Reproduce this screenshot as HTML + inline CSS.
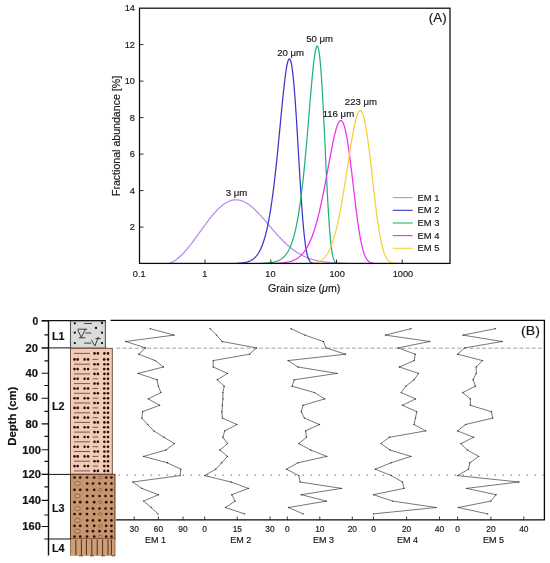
<!DOCTYPE html>
<html lang="en"><head><meta charset="utf-8"><title>End-member grain size figure</title>
<style>html,body{margin:0;padding:0;background:#fff}body{width:550px;height:563px;overflow:hidden}svg{display:block}text{font-family:"Liberation Sans",sans-serif;fill:#1a1a1a;stroke:#1a1a1a;stroke-width:0.18px}.b{font-weight:bold;fill:#111}</style></head><body>
<svg width="550" height="563" viewBox="0 0 550 563">
<rect width="550" height="563" fill="#fff"/>
<g id="panelA">
<clipPath id="cA"><rect x="139.5" y="8.2" width="310.5" height="255.2"/></clipPath>
<g clip-path="url(#cA)" fill="none" stroke-width="1.25" stroke-linejoin="round">
<path d="M168.5,263.38 L169.0,263.27 L169.5,263.14 L170.0,262.99 L170.5,262.82 L171.0,262.63 L171.5,262.42 L172.0,262.19 L172.5,261.95 L173.0,261.69 L173.5,261.41 L174.0,261.11 L174.5,260.81 L175.0,260.48 L175.5,260.15 L176.0,259.79 L176.5,259.43 L177.0,259.05 L177.5,258.66 L178.0,258.26 L178.5,257.84 L179.0,257.41 L179.5,256.97 L180.0,256.52 L180.5,256.05 L181.0,255.58 L181.5,255.10 L182.0,254.60 L182.5,254.09 L183.0,253.58 L183.5,253.05 L184.0,252.52 L184.5,251.97 L185.0,251.42 L185.5,250.85 L186.0,250.28 L186.5,249.70 L187.0,249.12 L187.5,248.52 L188.0,247.92 L188.5,247.31 L189.0,246.69 L189.5,246.07 L190.0,245.44 L190.5,244.80 L191.0,244.16 L191.5,243.51 L192.0,242.86 L192.5,242.20 L193.0,241.54 L193.5,240.87 L194.0,240.20 L194.5,239.52 L195.0,238.84 L195.5,238.16 L196.0,237.47 L196.5,236.79 L197.0,236.10 L197.5,235.40 L198.0,234.71 L198.5,234.01 L199.0,233.32 L199.5,232.62 L200.0,231.92 L200.5,231.22 L201.0,230.52 L201.5,229.83 L202.0,229.13 L202.5,228.43 L203.0,227.74 L203.5,227.05 L204.0,226.36 L204.5,225.67 L205.0,224.98 L205.5,224.30 L206.0,223.62 L206.5,222.95 L207.0,222.28 L207.5,221.61 L208.0,220.95 L208.5,220.29 L209.0,219.64 L209.5,218.99 L210.0,218.35 L210.5,217.72 L211.0,217.09 L211.5,216.47 L212.0,215.86 L212.5,215.25 L213.0,214.66 L213.5,214.07 L214.0,213.49 L214.5,212.91 L215.0,212.35 L215.5,211.80 L216.0,211.25 L216.5,210.72 L217.0,210.19 L217.5,209.68 L218.0,209.18 L218.5,208.68 L219.0,208.20 L219.5,207.73 L220.0,207.27 L220.5,206.83 L221.0,206.39 L221.5,205.97 L222.0,205.56 L222.5,205.17 L223.0,204.78 L223.5,204.41 L224.0,204.05 L224.5,203.71 L225.0,203.38 L225.5,203.06 L226.0,202.76 L226.5,202.47 L227.0,202.20 L227.5,201.94 L228.0,201.69 L228.5,201.46 L229.0,201.25 L229.5,201.04 L230.0,200.86 L230.5,200.69 L231.0,200.53 L231.5,200.39 L232.0,200.26 L232.5,200.15 L233.0,200.06 L233.5,199.98 L234.0,199.91 L234.5,199.86 L235.0,199.82 L235.5,199.80 L236.0,199.80 L236.5,199.81 L237.0,199.84 L237.5,199.88 L238.0,199.93 L238.5,200.00 L239.0,200.09 L239.5,200.19 L240.0,200.30 L240.5,200.43 L241.0,200.58 L241.5,200.74 L242.0,200.91 L242.5,201.10 L243.0,201.30 L243.5,201.51 L244.0,201.74 L244.5,201.98 L245.0,202.23 L245.5,202.50 L246.0,202.78 L246.5,203.08 L247.0,203.38 L247.5,203.70 L248.0,204.03 L248.5,204.37 L249.0,204.72 L249.5,205.09 L250.0,205.46 L250.5,205.85 L251.0,206.25 L251.5,206.66 L252.0,207.07 L252.5,207.50 L253.0,207.94 L253.5,208.38 L254.0,208.84 L254.5,209.30 L255.0,209.77 L255.5,210.26 L256.0,210.74 L256.5,211.24 L257.0,211.74 L257.5,212.25 L258.0,212.77 L258.5,213.29 L259.0,213.82 L259.5,214.36 L260.0,214.90 L260.5,215.44 L261.0,215.99 L261.5,216.55 L262.0,217.11 L262.5,217.67 L263.0,218.24 L263.5,218.81 L264.0,219.38 L264.5,219.96 L265.0,220.54 L265.5,221.12 L266.0,221.70 L266.5,222.29 L267.0,222.87 L267.5,223.46 L268.0,224.05 L268.5,224.63 L269.0,225.22 L269.5,225.81 L270.0,226.40 L270.5,226.98 L271.0,227.57 L271.5,228.16 L272.0,228.74 L272.5,229.32 L273.0,229.90 L273.5,230.48 L274.0,231.06 L274.5,231.63 L275.0,232.20 L275.5,232.77 L276.0,233.34 L276.5,233.90 L277.0,234.46 L277.5,235.01 L278.0,235.56 L278.5,236.11 L279.0,236.65 L279.5,237.19 L280.0,237.72 L280.5,238.25 L281.0,238.77 L281.5,239.29 L282.0,239.80 L282.5,240.31 L283.0,240.82 L283.5,241.31 L284.0,241.80 L284.5,242.29 L285.0,242.77 L285.5,243.24 L286.0,243.71 L286.5,244.18 L287.0,244.63 L287.5,245.08 L288.0,245.52 L288.5,245.96 L289.0,246.39 L289.5,246.82 L290.0,247.23 L290.5,247.65 L291.0,248.05 L291.5,248.45 L292.0,248.84 L292.5,249.22 L293.0,249.60 L293.5,249.97 L294.0,250.34 L294.5,250.70 L295.0,251.05 L295.5,251.39 L296.0,251.73 L296.5,252.07 L297.0,252.39 L297.5,252.71 L298.0,253.02 L298.5,253.33 L299.0,253.63 L299.5,253.92 L300.0,254.21 L300.5,254.49 L301.0,254.76 L301.5,255.03 L302.0,255.29 L302.5,255.55 L303.0,255.80 L303.5,256.04 L304.0,256.28 L304.5,256.51 L305.0,256.74 L305.5,256.96 L306.0,257.18 L306.5,257.39 L307.0,257.59 L307.5,257.79 L308.0,257.98 L308.5,258.17 L309.0,258.36 L309.5,258.53 L310.0,258.71 L310.5,258.88 L311.0,259.04 L311.5,259.20 L312.0,259.35 L312.5,259.51 L313.0,259.65 L313.5,259.79 L314.0,259.93 L314.5,260.06 L315.0,260.19 L315.5,260.32 L316.0,260.44 L316.5,260.56 L317.0,260.67 L317.5,260.78 L318.0,260.89 L318.5,260.99 L319.0,261.09 L319.5,261.18 L320.0,261.28 L320.5,261.37 L321.0,261.45 L321.5,261.54 L322.0,261.62 L322.5,261.70 L323.0,261.77 L323.5,261.84 L324.0,261.91 L324.5,261.98 L325.0,262.05 L325.5,262.11 L326.0,262.17 L326.5,262.23 L327.0,262.28 L327.5,262.34 L328.0,262.39 L328.5,262.44 L329.0,262.49 L329.5,262.53 L330.0,262.58 L330.5,262.62 L331.0,262.66 L331.5,262.70 L332.0,262.73 L332.5,262.77 L333.0,262.80 L333.5,262.84 L334.0,262.87 L334.5,262.90 L335.0,262.93 L335.5,262.96 L336.0,262.98 L336.5,263.01 L337.0,263.03 L337.5,263.06 L338.0,263.08 L338.5,263.10 L339.0,263.12 L339.5,263.14 L340.0,263.16 L340.5,263.17 L341.0,263.19 L341.5,263.21 L342.0,263.22 L342.5,263.24 L343.0,263.25 L343.5,263.26 L344.0,263.28 L344.5,263.29 L345.0,263.30 L345.5,263.31 L346.0,263.32 L346.5,263.33 L347.0,263.34 L347.5,263.35 L348.0,263.36" stroke="#b98af0"/>
<path d="M236.0,263.36 L236.5,263.35 L237.0,263.33 L237.5,263.31 L238.0,263.28 L238.5,263.25 L239.0,263.22 L239.5,263.19 L240.0,263.15 L240.5,263.11 L241.0,263.07 L241.5,263.02 L242.0,262.96 L242.5,262.90 L243.0,262.84 L243.5,262.77 L244.0,262.69 L244.5,262.60 L245.0,262.51 L245.5,262.40 L246.0,262.29 L246.5,262.17 L247.0,262.03 L247.5,261.89 L248.0,261.73 L248.5,261.55 L249.0,261.37 L249.5,261.16 L250.0,260.94 L250.5,260.70 L251.0,260.44 L251.5,260.16 L252.0,259.86 L252.5,259.53 L253.0,259.18 L253.5,258.80 L254.0,258.39 L254.5,257.95 L255.0,257.47 L255.5,256.96 L256.0,256.42 L256.5,255.83 L257.0,255.20 L257.5,254.52 L258.0,253.80 L258.5,253.03 L259.0,252.20 L259.5,251.32 L260.0,250.37 L260.5,249.37 L261.0,248.30 L261.5,247.15 L262.0,245.94 L262.5,244.65 L263.0,243.27 L263.5,241.81 L264.0,240.27 L264.5,238.63 L265.0,236.89 L265.5,235.06 L266.0,233.12 L266.5,231.07 L267.0,228.90 L267.5,226.62 L268.0,224.22 L268.5,221.70 L269.0,219.05 L269.5,216.26 L270.0,213.34 L270.5,210.29 L271.0,207.09 L271.5,203.76 L272.0,200.28 L272.5,196.65 L273.0,192.88 L273.5,188.97 L274.0,184.92 L274.5,180.72 L275.0,176.39 L275.5,171.92 L276.0,167.33 L276.5,162.62 L277.0,157.79 L277.5,152.86 L278.0,147.83 L278.5,142.73 L279.0,137.56 L279.5,132.34 L280.0,127.09 L280.5,121.83 L281.0,116.59 L281.5,111.38 L282.0,106.23 L282.5,101.17 L283.0,96.23 L283.5,91.44 L284.0,86.84 L284.5,82.45 L285.0,78.33 L285.5,74.49 L286.0,70.99 L286.5,67.85 L287.0,65.12 L287.5,62.84 L288.0,61.03 L288.5,59.74 L289.0,58.99 L289.5,58.81 L290.0,59.23 L290.5,60.28 L291.0,61.95 L291.5,64.27 L292.0,67.24 L292.5,70.86 L293.0,75.11 L293.5,79.99 L294.0,85.46 L294.5,91.48 L295.0,98.04 L295.5,105.06 L296.0,112.51 L296.5,120.31 L297.0,128.41 L297.5,136.73 L298.0,145.20 L298.5,153.74 L299.0,162.27 L299.5,170.73 L300.0,179.03 L300.5,187.11 L301.0,194.90 L301.5,202.34 L302.0,209.40 L302.5,216.01 L303.0,222.16 L303.5,227.83 L304.0,232.98 L304.5,237.64 L305.0,241.79 L305.5,245.46 L306.0,248.66 L306.5,251.42 L307.0,253.78 L307.5,255.77 L308.0,257.43 L308.5,258.79 L309.0,259.89 L309.5,260.77 L310.0,261.47 L310.5,262.01 L311.0,262.42 L311.5,262.73 L312.0,262.96 L312.5,263.13 L313.0,263.25 L313.5,263.33 L314.0,263.39" stroke="#3a37c8"/>
<path d="M260.5,263.36 L261.0,263.35 L261.5,263.33 L262.0,263.31 L262.5,263.30 L263.0,263.28 L263.5,263.26 L264.0,263.24 L264.5,263.21 L265.0,263.18 L265.5,263.16 L266.0,263.12 L266.5,263.09 L267.0,263.05 L267.5,263.01 L268.0,262.97 L268.5,262.92 L269.0,262.87 L269.5,262.82 L270.0,262.76 L270.5,262.69 L271.0,262.62 L271.5,262.54 L272.0,262.46 L272.5,262.37 L273.0,262.28 L273.5,262.17 L274.0,262.06 L274.5,261.94 L275.0,261.81 L275.5,261.67 L276.0,261.52 L276.5,261.35 L277.0,261.18 L277.5,260.98 L278.0,260.78 L278.5,260.56 L279.0,260.32 L279.5,260.07 L280.0,259.79 L280.5,259.50 L281.0,259.18 L281.5,258.84 L282.0,258.47 L282.5,258.08 L283.0,257.66 L283.5,257.21 L284.0,256.72 L284.5,256.20 L285.0,255.65 L285.5,255.05 L286.0,254.41 L286.5,253.73 L287.0,253.00 L287.5,252.22 L288.0,251.39 L288.5,250.50 L289.0,249.55 L289.5,248.53 L290.0,247.45 L290.5,246.29 L291.0,245.06 L291.5,243.75 L292.0,242.36 L292.5,240.88 L293.0,239.30 L293.5,237.62 L294.0,235.85 L294.5,233.96 L295.0,231.96 L295.5,229.84 L296.0,227.59 L296.5,225.22 L297.0,222.71 L297.5,220.06 L298.0,217.26 L298.5,214.32 L299.0,211.21 L299.5,207.95 L300.0,204.52 L300.5,200.93 L301.0,197.16 L301.5,193.22 L302.0,189.10 L302.5,184.80 L303.0,180.33 L303.5,175.68 L304.0,170.85 L304.5,165.85 L305.0,160.69 L305.5,155.37 L306.0,149.90 L306.5,144.30 L307.0,138.57 L307.5,132.73 L308.0,126.81 L308.5,120.82 L309.0,114.79 L309.5,108.75 L310.0,102.73 L310.5,96.76 L311.0,90.89 L311.5,85.16 L312.0,79.61 L312.5,74.30 L313.0,69.26 L313.5,64.57 L314.0,60.27 L314.5,56.43 L315.0,53.10 L315.5,50.34 L316.0,48.21 L316.5,46.77 L317.0,46.06 L317.5,46.15 L318.0,47.06 L318.5,48.83 L319.0,51.49 L319.5,55.06 L320.0,59.53 L320.5,64.89 L321.0,71.13 L321.5,78.20 L322.0,86.05 L322.5,94.61 L323.0,103.79 L323.5,113.51 L324.0,123.65 L324.5,134.09 L325.0,144.70 L325.5,155.36 L326.0,165.94 L326.5,176.30 L327.0,186.33 L327.5,195.91 L328.0,204.95 L328.5,213.36 L329.0,221.08 L329.5,228.07 L330.0,234.30 L330.5,239.77 L331.0,244.51 L331.5,248.54 L332.0,251.90 L332.5,254.67 L333.0,256.89 L333.5,258.65 L334.0,260.02 L334.5,261.05 L335.0,261.81 L335.5,262.37 L336.0,262.76 L336.5,263.03 L337.0,263.20 L337.5,263.32 L338.0,263.40" stroke="#1fb27a"/>
<path d="M275.5,263.35 L276.0,263.34 L276.5,263.32 L277.0,263.30 L277.5,263.28 L278.0,263.26 L278.5,263.23 L279.0,263.21 L279.5,263.18 L280.0,263.14 L280.5,263.11 L281.0,263.07 L281.5,263.03 L282.0,262.99 L282.5,262.94 L283.0,262.89 L283.5,262.84 L284.0,262.78 L284.5,262.71 L285.0,262.65 L285.5,262.57 L286.0,262.49 L286.5,262.41 L287.0,262.32 L287.5,262.22 L288.0,262.12 L288.5,262.01 L289.0,261.89 L289.5,261.77 L290.0,261.63 L290.5,261.49 L291.0,261.34 L291.5,261.17 L292.0,261.00 L292.5,260.82 L293.0,260.62 L293.5,260.41 L294.0,260.19 L294.5,259.96 L295.0,259.71 L295.5,259.45 L296.0,259.17 L296.5,258.88 L297.0,258.57 L297.5,258.24 L298.0,257.89 L298.5,257.53 L299.0,257.14 L299.5,256.73 L300.0,256.30 L300.5,255.85 L301.0,255.38 L301.5,254.87 L302.0,254.35 L302.5,253.79 L303.0,253.21 L303.5,252.60 L304.0,251.96 L304.5,251.29 L305.0,250.58 L305.5,249.85 L306.0,249.07 L306.5,248.26 L307.0,247.42 L307.5,246.53 L308.0,245.61 L308.5,244.65 L309.0,243.64 L309.5,242.59 L310.0,241.50 L310.5,240.36 L311.0,239.18 L311.5,237.94 L312.0,236.66 L312.5,235.33 L313.0,233.95 L313.5,232.52 L314.0,231.03 L314.5,229.50 L315.0,227.90 L315.5,226.25 L316.0,224.55 L316.5,222.79 L317.0,220.98 L317.5,219.11 L318.0,217.18 L318.5,215.20 L319.0,213.16 L319.5,211.06 L320.0,208.91 L320.5,206.71 L321.0,204.45 L321.5,202.14 L322.0,199.78 L322.5,197.38 L323.0,194.92 L323.5,192.42 L324.0,189.88 L324.5,187.30 L325.0,184.69 L325.5,182.04 L326.0,179.37 L326.5,176.67 L327.0,173.96 L327.5,171.23 L328.0,168.49 L328.5,165.75 L329.0,163.02 L329.5,160.30 L330.0,157.59 L330.5,154.91 L331.0,152.26 L331.5,149.65 L332.0,147.10 L332.5,144.60 L333.0,142.17 L333.5,139.82 L334.0,137.55 L334.5,135.38 L335.0,133.32 L335.5,131.37 L336.0,129.56 L336.5,127.88 L337.0,126.34 L337.5,124.97 L338.0,123.76 L338.5,122.73 L339.0,121.88 L339.5,121.23 L340.0,120.78 L340.5,120.54 L341.0,120.52 L341.5,120.72 L342.0,121.15 L342.5,121.81 L343.0,122.71 L343.5,123.84 L344.0,125.22 L344.5,126.83 L345.0,128.67 L345.5,130.75 L346.0,133.06 L346.5,135.59 L347.0,138.33 L347.5,141.28 L348.0,144.43 L348.5,147.76 L349.0,151.25 L349.5,154.91 L350.0,158.70 L350.5,162.62 L351.0,166.65 L351.5,170.76 L352.0,174.95 L352.5,179.18 L353.0,183.45 L353.5,187.72 L354.0,191.99 L354.5,196.23 L355.0,200.42 L355.5,204.55 L356.0,208.59 L356.5,212.54 L357.0,216.37 L357.5,220.07 L358.0,223.64 L358.5,227.05 L359.0,230.30 L359.5,233.39 L360.0,236.30 L360.5,239.04 L361.0,241.60 L361.5,243.98 L362.0,246.18 L362.5,248.21 L363.0,250.07 L363.5,251.76 L364.0,253.29 L364.5,254.66 L365.0,255.90 L365.5,256.99 L366.0,257.96 L366.5,258.82 L367.0,259.56 L367.5,260.21 L368.0,260.77 L368.5,261.25 L369.0,261.65 L369.5,262.00 L370.0,262.28 L370.5,262.52 L371.0,262.72 L371.5,262.88 L372.0,263.02 L372.5,263.12 L373.0,263.21 L373.5,263.28 L374.0,263.33 L374.5,263.37" stroke="#f02df0"/>
<path d="M311.5,263.36 L312.0,263.33 L312.5,263.29 L313.0,263.24 L313.5,263.18 L314.0,263.11 L314.5,263.04 L315.0,262.95 L315.5,262.85 L316.0,262.74 L316.5,262.62 L317.0,262.48 L317.5,262.32 L318.0,262.15 L318.5,261.95 L319.0,261.74 L319.5,261.50 L320.0,261.24 L320.5,260.96 L321.0,260.65 L321.5,260.31 L322.0,259.95 L322.5,259.55 L323.0,259.12 L323.5,258.65 L324.0,258.15 L324.5,257.61 L325.0,257.03 L325.5,256.41 L326.0,255.75 L326.5,255.03 L327.0,254.28 L327.5,253.47 L328.0,252.61 L328.5,251.69 L329.0,250.73 L329.5,249.70 L330.0,248.61 L330.5,247.47 L331.0,246.26 L331.5,244.98 L332.0,243.64 L332.5,242.24 L333.0,240.76 L333.5,239.21 L334.0,237.59 L334.5,235.89 L335.0,234.12 L335.5,232.28 L336.0,230.36 L336.5,228.36 L337.0,226.28 L337.5,224.13 L338.0,221.90 L338.5,219.59 L339.0,217.20 L339.5,214.74 L340.0,212.20 L340.5,209.59 L341.0,206.90 L341.5,204.15 L342.0,201.33 L342.5,198.44 L343.0,195.49 L343.5,192.49 L344.0,189.43 L344.5,186.33 L345.0,183.18 L345.5,179.99 L346.0,176.77 L346.5,173.52 L347.0,170.25 L347.5,166.98 L348.0,163.70 L348.5,160.42 L349.0,157.16 L349.5,153.92 L350.0,150.72 L350.5,147.56 L351.0,144.45 L351.5,141.40 L352.0,138.43 L352.5,135.55 L353.0,132.77 L353.5,130.10 L354.0,127.55 L354.5,125.13 L355.0,122.86 L355.5,120.75 L356.0,118.81 L356.5,117.05 L357.0,115.48 L357.5,114.11 L358.0,112.95 L358.5,112.02 L359.0,111.31 L359.5,110.84 L360.0,110.62 L360.5,110.65 L361.0,110.93 L361.5,111.46 L362.0,112.26 L362.5,113.32 L363.0,114.64 L363.5,116.22 L364.0,118.06 L364.5,120.15 L365.0,122.48 L365.5,125.05 L366.0,127.86 L366.5,130.87 L367.0,134.10 L367.5,137.52 L368.0,141.12 L368.5,144.88 L369.0,148.79 L369.5,152.83 L370.0,156.99 L370.5,161.23 L371.0,165.55 L371.5,169.93 L372.0,174.34 L372.5,178.77 L373.0,183.19 L373.5,187.59 L374.0,191.96 L374.5,196.26 L375.0,200.49 L375.5,204.62 L376.0,208.66 L376.5,212.57 L377.0,216.35 L377.5,220.00 L378.0,223.49 L378.5,226.83 L379.0,230.00 L379.5,233.00 L380.0,235.83 L380.5,238.49 L381.0,240.98 L381.5,243.29 L382.0,245.44 L382.5,247.42 L383.0,249.24 L383.5,250.91 L384.0,252.43 L384.5,253.80 L385.0,255.04 L385.5,256.15 L386.0,257.15 L386.5,258.04 L387.0,258.82 L387.5,259.51 L388.0,260.11 L388.5,260.64 L389.0,261.10 L389.5,261.49 L390.0,261.83 L390.5,262.12 L391.0,262.36 L391.5,262.57 L392.0,262.74 L392.5,262.89 L393.0,263.01 L393.5,263.10 L394.0,263.18 L394.5,263.25 L395.0,263.30 L395.5,263.35 L396.0,263.38" stroke="#f7d038"/>
</g>
<rect x="139.5" y="8.2" width="310.5" height="255.2" fill="none" stroke="#0a0a0a" stroke-width="1.25"/>
<line x1="139.5" x2="143.5" y1="227.1" y2="227.1" stroke="#111" stroke-width="0.9"/>
<line x1="139.5" x2="143.5" y1="190.6" y2="190.6" stroke="#111" stroke-width="0.9"/>
<line x1="139.5" x2="143.5" y1="154.1" y2="154.1" stroke="#111" stroke-width="0.9"/>
<line x1="139.5" x2="143.5" y1="117.6" y2="117.6" stroke="#111" stroke-width="0.9"/>
<line x1="139.5" x2="143.5" y1="81.1" y2="81.1" stroke="#111" stroke-width="0.9"/>
<line x1="139.5" x2="143.5" y1="44.6" y2="44.6" stroke="#111" stroke-width="0.9"/>
<text x="134.9" y="230.4" font-size="9.2" text-anchor="end">2</text>
<text x="134.9" y="193.9" font-size="9.2" text-anchor="end">4</text>
<text x="134.9" y="157.4" font-size="9.2" text-anchor="end">6</text>
<text x="134.9" y="120.9" font-size="9.2" text-anchor="end">8</text>
<text x="134.9" y="84.4" font-size="9.2" text-anchor="end">10</text>
<text x="134.9" y="47.9" font-size="9.2" text-anchor="end">12</text>
<text x="134.9" y="11.4" font-size="9.2" text-anchor="end">14</text>
<text x="139.2" y="276.9" font-size="9.2" text-anchor="middle">0.1</text>
<line x1="205.0" x2="205.0" y1="263.4" y2="259.59999999999997" stroke="#111" stroke-width="0.9"/>
<text x="204.7" y="276.9" font-size="9.2" text-anchor="middle">1</text>
<line x1="270.8" x2="270.8" y1="263.4" y2="259.59999999999997" stroke="#111" stroke-width="0.9"/>
<text x="270.4" y="276.9" font-size="9.2" text-anchor="middle">10</text>
<line x1="336.5" x2="336.5" y1="263.4" y2="259.59999999999997" stroke="#111" stroke-width="0.9"/>
<text x="337.1" y="276.9" font-size="9.2" text-anchor="middle">100</text>
<line x1="402.2" x2="402.2" y1="263.4" y2="259.59999999999997" stroke="#111" stroke-width="0.9"/>
<text x="402.9" y="276.9" font-size="9.2" text-anchor="middle">1000</text>
<text x="304.1" y="292.1" font-size="10.6" text-anchor="middle">Grain size (<tspan font-style="italic">μ</tspan>m)</text>
<text transform="translate(119.7,136) rotate(-90)" font-size="10.6" text-anchor="middle">Fractional abundance [%]</text>
<text x="437.7" y="21.5" font-size="12" text-anchor="middle" textLength="17.8" lengthAdjust="spacingAndGlyphs" fill="#111">(A)</text>
<text x="236.4" y="196.4" font-size="9.6" text-anchor="middle">3 μm</text>
<text x="290.6" y="56.3" font-size="9.6" text-anchor="middle">20 μm</text>
<text x="319.6" y="42.2" font-size="9.6" text-anchor="middle">50 μm</text>
<text x="338.4" y="116.9" font-size="9.6" text-anchor="middle">116 μm</text>
<text x="360.9" y="105.3" font-size="9.6" text-anchor="middle">223 μm</text>
<line x1="392.7" x2="412.7" y1="197.6" y2="197.6" stroke="#b98af0" stroke-width="1.1"/>
<text x="417.6" y="200.5" font-size="9.4">EM 1</text>
<line x1="392.7" x2="412.7" y1="210.3" y2="210.3" stroke="#3a37c8" stroke-width="1.1"/>
<text x="417.6" y="213.2" font-size="9.4">EM 2</text>
<line x1="392.7" x2="412.7" y1="223.0" y2="223.0" stroke="#1fb27a" stroke-width="1.1"/>
<text x="417.6" y="225.9" font-size="9.4">EM 3</text>
<line x1="392.7" x2="412.7" y1="235.6" y2="235.6" stroke="#f02df0" stroke-width="1.1"/>
<text x="417.6" y="238.5" font-size="9.4">EM 4</text>
<line x1="392.7" x2="412.7" y1="248.3" y2="248.3" stroke="#f7d038" stroke-width="1.1"/>
<text x="417.6" y="251.2" font-size="9.4">EM 5</text>
</g>
<g id="panelB">
<rect x="70.5" y="320.6" width="34.900000000000006" height="27.5" fill="#dbdbdb" stroke="#555" stroke-width="1.1"/>
<rect x="70.5" y="348.3" width="41.8" height="126" fill="#f2ccb8" stroke="#6a4034" stroke-width="0.9"/>
<rect x="70.5" y="474.3" width="44.5" height="64.7" fill="#c8966e" stroke="#4a2e1e" stroke-width="0.9"/>
<rect x="70.5" y="539.4" width="44.5" height="16.4" fill="#cfa078"/>
<path d="M70.5,539V555.8M115,539V555.8" stroke="#7a5638" stroke-width="0.8" fill="none"/>
<g fill="#111">
<circle cx="74.8" cy="323.3" r="1.15"/>
<circle cx="102" cy="323" r="1.15"/>
<circle cx="96" cy="328" r="1.15"/>
<circle cx="74.8" cy="332.7" r="1.15"/>
<circle cx="102" cy="332.7" r="1.15"/>
<circle cx="74.8" cy="343.1" r="1.15"/>
<circle cx="102" cy="343.1" r="1.15"/>
</g>
<path d="M84.2,323.5H91.9 M77.7,329.2H87.2 M77.7,329.8L81.3,337.5L85.4,329.2 M85.4,333H91.3 M78.9,337.8H85.4 M91.3,339.8L94.9,346L98.4,336.9 M95.5,338.6H100.8 M84.2,343.1H91.3" stroke="#222" stroke-width="0.85" fill="none"/>
<g fill="#20100c" stroke="#6a3e30" stroke-width="0.85">
<path d="M74,353.4H90"/>
<circle cx="94.5" cy="353.4" r="1.3" stroke="none"/>
<circle cx="97.9" cy="353.4" r="1.3" stroke="none"/>
<circle cx="104.4" cy="353.4" r="1.3" stroke="none"/>
<circle cx="108" cy="353.4" r="1.3" stroke="none"/>
<path d="M92.5,359.4H98.2"/>
<circle cx="74.5" cy="359.4" r="1.3" stroke="none"/>
<circle cx="77.7" cy="359.4" r="1.3" stroke="none"/>
<circle cx="84.6" cy="359.4" r="1.3" stroke="none"/>
<circle cx="88.1" cy="359.4" r="1.3" stroke="none"/>
<circle cx="104.2" cy="359.4" r="1.3" stroke="none"/>
<circle cx="108" cy="359.4" r="1.3" stroke="none"/>
<path d="M74,364.2H90"/>
<circle cx="94.5" cy="364.2" r="1.3" stroke="none"/>
<circle cx="97.9" cy="364.2" r="1.3" stroke="none"/>
<circle cx="104.4" cy="364.2" r="1.3" stroke="none"/>
<circle cx="108" cy="364.2" r="1.3" stroke="none"/>
<path d="M92.5,369.1H98.2"/>
<circle cx="74.5" cy="369.1" r="1.3" stroke="none"/>
<circle cx="77.7" cy="369.1" r="1.3" stroke="none"/>
<circle cx="84.6" cy="369.1" r="1.3" stroke="none"/>
<circle cx="88.1" cy="369.1" r="1.3" stroke="none"/>
<circle cx="104.2" cy="369.1" r="1.3" stroke="none"/>
<circle cx="108" cy="369.1" r="1.3" stroke="none"/>
<path d="M74,373.9H90"/>
<circle cx="94.5" cy="373.9" r="1.3" stroke="none"/>
<circle cx="97.9" cy="373.9" r="1.3" stroke="none"/>
<circle cx="104.4" cy="373.9" r="1.3" stroke="none"/>
<circle cx="108" cy="373.9" r="1.3" stroke="none"/>
<path d="M92.5,378.8H98.2"/>
<circle cx="74.5" cy="378.8" r="1.3" stroke="none"/>
<circle cx="77.7" cy="378.8" r="1.3" stroke="none"/>
<circle cx="84.6" cy="378.8" r="1.3" stroke="none"/>
<circle cx="88.1" cy="378.8" r="1.3" stroke="none"/>
<circle cx="104.2" cy="378.8" r="1.3" stroke="none"/>
<circle cx="108" cy="378.8" r="1.3" stroke="none"/>
<path d="M74,383.6H90"/>
<circle cx="94.5" cy="383.6" r="1.3" stroke="none"/>
<circle cx="97.9" cy="383.6" r="1.3" stroke="none"/>
<circle cx="104.4" cy="383.6" r="1.3" stroke="none"/>
<circle cx="108" cy="383.6" r="1.3" stroke="none"/>
<path d="M92.5,388.5H98.2"/>
<circle cx="74.5" cy="388.5" r="1.3" stroke="none"/>
<circle cx="77.7" cy="388.5" r="1.3" stroke="none"/>
<circle cx="84.6" cy="388.5" r="1.3" stroke="none"/>
<circle cx="88.1" cy="388.5" r="1.3" stroke="none"/>
<circle cx="104.2" cy="388.5" r="1.3" stroke="none"/>
<circle cx="108" cy="388.5" r="1.3" stroke="none"/>
<path d="M74,393.3H90"/>
<circle cx="94.5" cy="393.3" r="1.3" stroke="none"/>
<circle cx="97.9" cy="393.3" r="1.3" stroke="none"/>
<circle cx="104.4" cy="393.3" r="1.3" stroke="none"/>
<circle cx="108" cy="393.3" r="1.3" stroke="none"/>
<path d="M92.5,398.2H98.2"/>
<circle cx="74.5" cy="398.2" r="1.3" stroke="none"/>
<circle cx="77.7" cy="398.2" r="1.3" stroke="none"/>
<circle cx="84.6" cy="398.2" r="1.3" stroke="none"/>
<circle cx="88.1" cy="398.2" r="1.3" stroke="none"/>
<circle cx="104.2" cy="398.2" r="1.3" stroke="none"/>
<circle cx="108" cy="398.2" r="1.3" stroke="none"/>
<path d="M74,403.0H90"/>
<circle cx="94.5" cy="403.0" r="1.3" stroke="none"/>
<circle cx="97.9" cy="403.0" r="1.3" stroke="none"/>
<circle cx="104.4" cy="403.0" r="1.3" stroke="none"/>
<circle cx="108" cy="403.0" r="1.3" stroke="none"/>
<path d="M92.5,407.9H98.2"/>
<circle cx="74.5" cy="407.9" r="1.3" stroke="none"/>
<circle cx="77.7" cy="407.9" r="1.3" stroke="none"/>
<circle cx="84.6" cy="407.9" r="1.3" stroke="none"/>
<circle cx="88.1" cy="407.9" r="1.3" stroke="none"/>
<circle cx="104.2" cy="407.9" r="1.3" stroke="none"/>
<circle cx="108" cy="407.9" r="1.3" stroke="none"/>
<path d="M74,412.8H90"/>
<circle cx="94.5" cy="412.8" r="1.3" stroke="none"/>
<circle cx="97.9" cy="412.8" r="1.3" stroke="none"/>
<circle cx="104.4" cy="412.8" r="1.3" stroke="none"/>
<circle cx="108" cy="412.8" r="1.3" stroke="none"/>
<path d="M92.5,417.6H98.2"/>
<circle cx="74.5" cy="417.6" r="1.3" stroke="none"/>
<circle cx="77.7" cy="417.6" r="1.3" stroke="none"/>
<circle cx="84.6" cy="417.6" r="1.3" stroke="none"/>
<circle cx="88.1" cy="417.6" r="1.3" stroke="none"/>
<circle cx="104.2" cy="417.6" r="1.3" stroke="none"/>
<circle cx="108" cy="417.6" r="1.3" stroke="none"/>
<path d="M74,422.4H90"/>
<circle cx="94.5" cy="422.4" r="1.3" stroke="none"/>
<circle cx="97.9" cy="422.4" r="1.3" stroke="none"/>
<circle cx="104.4" cy="422.4" r="1.3" stroke="none"/>
<circle cx="108" cy="422.4" r="1.3" stroke="none"/>
<path d="M92.5,427.3H98.2"/>
<circle cx="74.5" cy="427.3" r="1.3" stroke="none"/>
<circle cx="77.7" cy="427.3" r="1.3" stroke="none"/>
<circle cx="84.6" cy="427.3" r="1.3" stroke="none"/>
<circle cx="88.1" cy="427.3" r="1.3" stroke="none"/>
<circle cx="104.2" cy="427.3" r="1.3" stroke="none"/>
<circle cx="108" cy="427.3" r="1.3" stroke="none"/>
<path d="M74,432.1H90"/>
<circle cx="94.5" cy="432.1" r="1.3" stroke="none"/>
<circle cx="97.9" cy="432.1" r="1.3" stroke="none"/>
<circle cx="104.4" cy="432.1" r="1.3" stroke="none"/>
<circle cx="108" cy="432.1" r="1.3" stroke="none"/>
<path d="M92.5,437.0H98.2"/>
<circle cx="74.5" cy="437.0" r="1.3" stroke="none"/>
<circle cx="77.7" cy="437.0" r="1.3" stroke="none"/>
<circle cx="84.6" cy="437.0" r="1.3" stroke="none"/>
<circle cx="88.1" cy="437.0" r="1.3" stroke="none"/>
<circle cx="104.2" cy="437.0" r="1.3" stroke="none"/>
<circle cx="108" cy="437.0" r="1.3" stroke="none"/>
<path d="M74,441.8H90"/>
<circle cx="94.5" cy="441.8" r="1.3" stroke="none"/>
<circle cx="97.9" cy="441.8" r="1.3" stroke="none"/>
<circle cx="104.4" cy="441.8" r="1.3" stroke="none"/>
<circle cx="108" cy="441.8" r="1.3" stroke="none"/>
<path d="M92.5,446.7H98.2"/>
<circle cx="74.5" cy="446.7" r="1.3" stroke="none"/>
<circle cx="77.7" cy="446.7" r="1.3" stroke="none"/>
<circle cx="84.6" cy="446.7" r="1.3" stroke="none"/>
<circle cx="88.1" cy="446.7" r="1.3" stroke="none"/>
<circle cx="104.2" cy="446.7" r="1.3" stroke="none"/>
<circle cx="108" cy="446.7" r="1.3" stroke="none"/>
<path d="M74,451.5H90"/>
<circle cx="94.5" cy="451.5" r="1.3" stroke="none"/>
<circle cx="97.9" cy="451.5" r="1.3" stroke="none"/>
<circle cx="104.4" cy="451.5" r="1.3" stroke="none"/>
<circle cx="108" cy="451.5" r="1.3" stroke="none"/>
<path d="M92.5,456.4H98.2"/>
<circle cx="74.5" cy="456.4" r="1.3" stroke="none"/>
<circle cx="77.7" cy="456.4" r="1.3" stroke="none"/>
<circle cx="84.6" cy="456.4" r="1.3" stroke="none"/>
<circle cx="88.1" cy="456.4" r="1.3" stroke="none"/>
<circle cx="104.2" cy="456.4" r="1.3" stroke="none"/>
<circle cx="108" cy="456.4" r="1.3" stroke="none"/>
<path d="M74,461.2H90"/>
<circle cx="94.5" cy="461.2" r="1.3" stroke="none"/>
<circle cx="97.9" cy="461.2" r="1.3" stroke="none"/>
<circle cx="104.4" cy="461.2" r="1.3" stroke="none"/>
<circle cx="108" cy="461.2" r="1.3" stroke="none"/>
<path d="M92.5,466.1H98.2"/>
<circle cx="74.5" cy="466.1" r="1.3" stroke="none"/>
<circle cx="77.7" cy="466.1" r="1.3" stroke="none"/>
<circle cx="84.6" cy="466.1" r="1.3" stroke="none"/>
<circle cx="88.1" cy="466.1" r="1.3" stroke="none"/>
<circle cx="104.2" cy="466.1" r="1.3" stroke="none"/>
<circle cx="108" cy="466.1" r="1.3" stroke="none"/>
<path d="M74,470.9H90"/>
<circle cx="94.5" cy="470.9" r="1.3" stroke="none"/>
<circle cx="97.9" cy="470.9" r="1.3" stroke="none"/>
<circle cx="104.4" cy="470.9" r="1.3" stroke="none"/>
<circle cx="108" cy="470.9" r="1.3" stroke="none"/>
</g>
<g fill="#26100a">
<circle cx="74.5" cy="477.5" r="1.35"/>
<circle cx="80.2" cy="477.5" r="1.35"/>
<circle cx="87" cy="477.5" r="1.35"/>
<circle cx="94.2" cy="477.5" r="1.35"/>
<circle cx="106.2" cy="477.5" r="1.35"/>
<circle cx="111.4" cy="477.5" r="1.35"/>
<ellipse cx="100.2" cy="477.5" rx="1.9" ry="1.25" fill="#d2a27c" stroke="#70432e" stroke-width="0.6"/>
<circle cx="87.2" cy="483.5" r="1.35"/>
<circle cx="93" cy="483.5" r="1.35"/>
<circle cx="99.5" cy="483.5" r="1.35"/>
<circle cx="105.5" cy="483.5" r="1.35"/>
<circle cx="111.4" cy="483.5" r="1.35"/>
<ellipse cx="77.4" cy="483.5" rx="2.9" ry="2" fill="#d2a27c" stroke="#70432e" stroke-width="0.6"/>
<circle cx="74.5" cy="489.8" r="1.35"/>
<circle cx="80.2" cy="489.8" r="1.35"/>
<circle cx="87" cy="489.8" r="1.35"/>
<circle cx="94.2" cy="489.8" r="1.35"/>
<circle cx="106.2" cy="489.8" r="1.35"/>
<circle cx="111.4" cy="489.8" r="1.35"/>
<ellipse cx="100.2" cy="489.8" rx="1.9" ry="1.25" fill="#d2a27c" stroke="#70432e" stroke-width="0.6"/>
<circle cx="87.2" cy="496.0" r="1.35"/>
<circle cx="93" cy="496.0" r="1.35"/>
<circle cx="99.5" cy="496.0" r="1.35"/>
<circle cx="105.5" cy="496.0" r="1.35"/>
<circle cx="111.4" cy="496.0" r="1.35"/>
<ellipse cx="77.4" cy="496.0" rx="2.9" ry="2" fill="#d2a27c" stroke="#70432e" stroke-width="0.6"/>
<circle cx="74.5" cy="502.2" r="1.35"/>
<circle cx="80.2" cy="502.2" r="1.35"/>
<circle cx="87" cy="502.2" r="1.35"/>
<circle cx="94.2" cy="502.2" r="1.35"/>
<circle cx="106.2" cy="502.2" r="1.35"/>
<circle cx="111.4" cy="502.2" r="1.35"/>
<ellipse cx="100.2" cy="502.2" rx="1.9" ry="1.25" fill="#d2a27c" stroke="#70432e" stroke-width="0.6"/>
<circle cx="87.2" cy="508.5" r="1.35"/>
<circle cx="93" cy="508.5" r="1.35"/>
<circle cx="99.5" cy="508.5" r="1.35"/>
<circle cx="105.5" cy="508.5" r="1.35"/>
<circle cx="111.4" cy="508.5" r="1.35"/>
<ellipse cx="77.4" cy="508.5" rx="2.9" ry="2" fill="#d2a27c" stroke="#70432e" stroke-width="0.6"/>
<circle cx="74.5" cy="514.0" r="1.35"/>
<circle cx="80.2" cy="514.0" r="1.35"/>
<circle cx="87" cy="514.0" r="1.35"/>
<circle cx="94.2" cy="514.0" r="1.35"/>
<circle cx="106.2" cy="514.0" r="1.35"/>
<circle cx="111.4" cy="514.0" r="1.35"/>
<ellipse cx="100.2" cy="514.0" rx="1.9" ry="1.25" fill="#d2a27c" stroke="#70432e" stroke-width="0.6"/>
<circle cx="87.2" cy="520.4" r="1.35"/>
<circle cx="93" cy="520.4" r="1.35"/>
<circle cx="99.5" cy="520.4" r="1.35"/>
<circle cx="105.5" cy="520.4" r="1.35"/>
<circle cx="111.4" cy="520.4" r="1.35"/>
<ellipse cx="77.4" cy="520.4" rx="2.9" ry="2" fill="#d2a27c" stroke="#70432e" stroke-width="0.6"/>
<circle cx="74.5" cy="525.8" r="1.35"/>
<circle cx="80.2" cy="525.8" r="1.35"/>
<circle cx="87" cy="525.8" r="1.35"/>
<circle cx="94.2" cy="525.8" r="1.35"/>
<circle cx="106.2" cy="525.8" r="1.35"/>
<circle cx="111.4" cy="525.8" r="1.35"/>
<ellipse cx="100.2" cy="525.8" rx="1.9" ry="1.25" fill="#d2a27c" stroke="#70432e" stroke-width="0.6"/>
<circle cx="87.2" cy="531.2" r="1.35"/>
<circle cx="93" cy="531.2" r="1.35"/>
<circle cx="99.5" cy="531.2" r="1.35"/>
<circle cx="105.5" cy="531.2" r="1.35"/>
<circle cx="111.4" cy="531.2" r="1.35"/>
<ellipse cx="77.4" cy="531.2" rx="2.9" ry="2" fill="#d2a27c" stroke="#70432e" stroke-width="0.6"/>
<circle cx="74.5" cy="536.6" r="1.35"/>
<circle cx="80.2" cy="536.6" r="1.35"/>
<circle cx="87" cy="536.6" r="1.35"/>
<circle cx="94.2" cy="536.6" r="1.35"/>
<circle cx="106.2" cy="536.6" r="1.35"/>
<circle cx="111.4" cy="536.6" r="1.35"/>
<ellipse cx="100.2" cy="536.6" rx="1.9" ry="1.25" fill="#d2a27c" stroke="#70432e" stroke-width="0.6"/>
</g>
<path d="M75.9,539.4V555.4M81.4,539.4V555.4M86.4,539.4V555.4M91.8,539.4V555.4M97.2,539.4V555.4M102.6,539.4V555.4M108,539.4V555.4M111.4,539.4V555.4" stroke="#3a2414" stroke-width="0.9" fill="none"/>
<path d="M79,555.8H83M90,555.8H94M101,555.8H105M112,555.8H115" stroke="#5a3a22" stroke-width="0.9" fill="none"/>
<path d="M48.5,320.6V555.5" stroke="#111" stroke-width="1.4" fill="none"/>
<path d="M41.8,320.6H105.4" stroke="#111" stroke-width="1.3" fill="none"/>
<path d="M41.8,347.9H70.5 M41.8,474.4H70.5 M44.3,539H70.5" stroke="#111" stroke-width="1" fill="none"/>
<path d="M41.6,320.8H48.5M41.6,348.0H48.5M41.6,373.2H48.5M41.6,398.2H48.5M41.6,423.9H48.5M41.6,449.7H48.5M41.6,474.4H48.5M41.6,500.4H48.5M41.6,526.5H48.5M44.4,334.8H48.5M44.4,360.8H48.5M44.4,385.5H48.5M44.4,411.4H48.5M44.4,436.4H48.5M44.4,461.3H48.5M44.4,486.9H48.5M44.4,515.0H48.5" stroke="#111" stroke-width="1.15" fill="none"/>
<text class="b" x="32.6" y="324.6" font-size="10.3" textLength="5.7" lengthAdjust="spacingAndGlyphs">0</text>
<text class="b" x="25.4" y="351.8" font-size="10.3" textLength="12.5" lengthAdjust="spacingAndGlyphs">20</text>
<text class="b" x="25.4" y="377.0" font-size="10.3" textLength="12.5" lengthAdjust="spacingAndGlyphs">40</text>
<text class="b" x="25.4" y="400.6" font-size="10.3" textLength="12.5" lengthAdjust="spacingAndGlyphs">60</text>
<text class="b" x="25.4" y="427.7" font-size="10.3" textLength="12.5" lengthAdjust="spacingAndGlyphs">80</text>
<text class="b" x="22.2" y="453.5" font-size="10.3" textLength="18.7" lengthAdjust="spacingAndGlyphs">100</text>
<text class="b" x="22.2" y="478.2" font-size="10.3" textLength="18.7" lengthAdjust="spacingAndGlyphs">120</text>
<text class="b" x="22.2" y="504.2" font-size="10.3" textLength="18.7" lengthAdjust="spacingAndGlyphs">140</text>
<text class="b" x="22.2" y="530.3" font-size="10.3" textLength="18.7" lengthAdjust="spacingAndGlyphs">160</text>
<text class="b" transform="translate(15.6,416.2) rotate(-90)" font-size="11" text-anchor="middle" textLength="59.2" lengthAdjust="spacingAndGlyphs">Depth (cm)</text>
<text class="b" x="52" y="339.5" font-size="10.7" textLength="12.6" lengthAdjust="spacingAndGlyphs">L1</text>
<text class="b" x="52" y="410" font-size="10.7" textLength="12.6" lengthAdjust="spacingAndGlyphs">L2</text>
<text class="b" x="52" y="512.3" font-size="10.7" textLength="12.6" lengthAdjust="spacingAndGlyphs">L3</text>
<text class="b" x="52" y="552.1" font-size="10.7" textLength="12.6" lengthAdjust="spacingAndGlyphs">L4</text>
<path d="M110.6,320.3H544.4V519.8H116" stroke="#0a0a0a" stroke-width="1.3" fill="none"/>
<path d="M116.3,348.2H544" stroke="#8a8a8a" stroke-width="0.8" stroke-dasharray="4 2.2" fill="none"/>
<path d="M118.6,475.1H544" stroke="#6a6a6a" stroke-width="1" stroke-dasharray="1.4 6.6" fill="none"/>
<text x="530.5" y="335" font-size="12.2" text-anchor="middle" textLength="18.8" lengthAdjust="spacingAndGlyphs" fill="#111">(B)</text>
<path d="M150.2,328.7 L174.1,335.1 L125.8,341.5 L145.6,347.9 L138.8,354.2 L155.3,360.6 L163.4,367.0 L138,373.4 L157.1,379.8 L158.4,386.2 L160.9,392.6 L148.2,398.9 L159.6,405.3 L142.6,411.7 L141.8,418.1 L147.7,424.5 L153.8,430.9 L164,437.3 L174.4,443.6 L166,450.0 L143.6,456.4 L167.3,462.8 L180.8,469.2 L180,475.6 L132.9,482.0 L141.8,488.4 L158.4,494.7 L143.6,501.1 L151.2,507.5 L157.9,513.9" stroke="#4a4a4a" stroke-width="0.75" fill="none" stroke-linejoin="round"/>
<g fill="#333"><circle cx="150.2" cy="328.7" r="0.7"/><circle cx="174.1" cy="335.1" r="0.7"/><circle cx="125.8" cy="341.5" r="0.7"/><circle cx="145.6" cy="347.9" r="0.7"/><circle cx="138.8" cy="354.2" r="0.7"/><circle cx="155.3" cy="360.6" r="0.7"/><circle cx="163.4" cy="367.0" r="0.7"/><circle cx="138" cy="373.4" r="0.7"/><circle cx="157.1" cy="379.8" r="0.7"/><circle cx="158.4" cy="386.2" r="0.7"/><circle cx="160.9" cy="392.6" r="0.7"/><circle cx="148.2" cy="398.9" r="0.7"/><circle cx="159.6" cy="405.3" r="0.7"/><circle cx="142.6" cy="411.7" r="0.7"/><circle cx="141.8" cy="418.1" r="0.7"/><circle cx="147.7" cy="424.5" r="0.7"/><circle cx="153.8" cy="430.9" r="0.7"/><circle cx="164" cy="437.3" r="0.7"/><circle cx="174.4" cy="443.6" r="0.7"/><circle cx="166" cy="450.0" r="0.7"/><circle cx="143.6" cy="456.4" r="0.7"/><circle cx="167.3" cy="462.8" r="0.7"/><circle cx="180.8" cy="469.2" r="0.7"/><circle cx="180" cy="475.6" r="0.7"/><circle cx="132.9" cy="482.0" r="0.7"/><circle cx="141.8" cy="488.4" r="0.7"/><circle cx="158.4" cy="494.7" r="0.7"/><circle cx="143.6" cy="501.1" r="0.7"/><circle cx="151.2" cy="507.5" r="0.7"/><circle cx="157.9" cy="513.9" r="0.7"/></g>
<path d="M210.2,328.7 L216.5,335.1 L222.1,341.5 L256.5,347.9 L249.6,354.2 L213.2,360.6 L213.2,367.0 L227.5,373.4 L217.3,379.8 L224.2,386.2 L222.9,392.6 L222.9,398.9 L222.4,405.3 L221.9,411.7 L222.4,418.1 L236.9,424.5 L224.7,430.9 L222.9,437.3 L227.5,443.6 L219.9,450.0 L227.5,456.4 L221.6,462.8 L215.8,469.2 L204.6,475.6 L231.1,482.0 L248.4,488.4 L231.8,494.7 L235.1,501.1 L225.5,507.5 L244.5,513.9" stroke="#4a4a4a" stroke-width="0.75" fill="none" stroke-linejoin="round"/>
<g fill="#333"><circle cx="210.2" cy="328.7" r="0.7"/><circle cx="216.5" cy="335.1" r="0.7"/><circle cx="222.1" cy="341.5" r="0.7"/><circle cx="256.5" cy="347.9" r="0.7"/><circle cx="249.6" cy="354.2" r="0.7"/><circle cx="213.2" cy="360.6" r="0.7"/><circle cx="213.2" cy="367.0" r="0.7"/><circle cx="227.5" cy="373.4" r="0.7"/><circle cx="217.3" cy="379.8" r="0.7"/><circle cx="224.2" cy="386.2" r="0.7"/><circle cx="222.9" cy="392.6" r="0.7"/><circle cx="222.9" cy="398.9" r="0.7"/><circle cx="222.4" cy="405.3" r="0.7"/><circle cx="221.9" cy="411.7" r="0.7"/><circle cx="222.4" cy="418.1" r="0.7"/><circle cx="236.9" cy="424.5" r="0.7"/><circle cx="224.7" cy="430.9" r="0.7"/><circle cx="222.9" cy="437.3" r="0.7"/><circle cx="227.5" cy="443.6" r="0.7"/><circle cx="219.9" cy="450.0" r="0.7"/><circle cx="227.5" cy="456.4" r="0.7"/><circle cx="221.6" cy="462.8" r="0.7"/><circle cx="215.8" cy="469.2" r="0.7"/><circle cx="204.6" cy="475.6" r="0.7"/><circle cx="231.1" cy="482.0" r="0.7"/><circle cx="248.4" cy="488.4" r="0.7"/><circle cx="231.8" cy="494.7" r="0.7"/><circle cx="235.1" cy="501.1" r="0.7"/><circle cx="225.5" cy="507.5" r="0.7"/><circle cx="244.5" cy="513.9" r="0.7"/></g>
<path d="M291.1,328.7 L304.9,335.1 L323.4,341.5 L326,347.9 L345.5,354.2 L288,360.6 L298,367.0 L337,373.4 L294.2,379.8 L292.1,386.2 L314.5,392.6 L324.7,398.9 L303.1,405.3 L301.3,411.7 L304.4,418.1 L319.4,424.5 L305.6,430.9 L306.4,437.3 L298.8,443.6 L310.7,450.0 L326.8,456.4 L298,462.8 L286.5,469.2 L298.8,475.6 L300,482.0 L341.5,488.4 L301.3,494.7 L326.5,501.1 L288.5,507.5 L303.2,513.9" stroke="#4a4a4a" stroke-width="0.75" fill="none" stroke-linejoin="round"/>
<g fill="#333"><circle cx="291.1" cy="328.7" r="0.7"/><circle cx="304.9" cy="335.1" r="0.7"/><circle cx="323.4" cy="341.5" r="0.7"/><circle cx="326" cy="347.9" r="0.7"/><circle cx="345.5" cy="354.2" r="0.7"/><circle cx="288" cy="360.6" r="0.7"/><circle cx="298" cy="367.0" r="0.7"/><circle cx="337" cy="373.4" r="0.7"/><circle cx="294.2" cy="379.8" r="0.7"/><circle cx="292.1" cy="386.2" r="0.7"/><circle cx="314.5" cy="392.6" r="0.7"/><circle cx="324.7" cy="398.9" r="0.7"/><circle cx="303.1" cy="405.3" r="0.7"/><circle cx="301.3" cy="411.7" r="0.7"/><circle cx="304.4" cy="418.1" r="0.7"/><circle cx="319.4" cy="424.5" r="0.7"/><circle cx="305.6" cy="430.9" r="0.7"/><circle cx="306.4" cy="437.3" r="0.7"/><circle cx="298.8" cy="443.6" r="0.7"/><circle cx="310.7" cy="450.0" r="0.7"/><circle cx="326.8" cy="456.4" r="0.7"/><circle cx="298" cy="462.8" r="0.7"/><circle cx="286.5" cy="469.2" r="0.7"/><circle cx="298.8" cy="475.6" r="0.7"/><circle cx="300" cy="482.0" r="0.7"/><circle cx="341.5" cy="488.4" r="0.7"/><circle cx="301.3" cy="494.7" r="0.7"/><circle cx="326.5" cy="501.1" r="0.7"/><circle cx="288.5" cy="507.5" r="0.7"/><circle cx="303.2" cy="513.9" r="0.7"/></g>
<path d="M410.9,328.7 L385.4,335.1 L429.7,341.5 L398.2,347.9 L415.2,354.2 L414.2,360.6 L399.4,367.0 L418.5,373.4 L414.2,379.8 L405.8,386.2 L401.2,392.6 L415.5,398.9 L402.5,405.3 L416.7,411.7 L415.5,418.1 L414,424.5 L425.7,430.9 L389.3,437.3 L380.9,443.6 L390,450.0 L410.9,456.4 L391,462.8 L375.3,469.2 L391.3,475.6 L402.5,482.0 L404,488.4 L373.5,494.7 L392.6,501.1 L436,507.5 L373.5,513.9" stroke="#4a4a4a" stroke-width="0.75" fill="none" stroke-linejoin="round"/>
<g fill="#333"><circle cx="410.9" cy="328.7" r="0.7"/><circle cx="385.4" cy="335.1" r="0.7"/><circle cx="429.7" cy="341.5" r="0.7"/><circle cx="398.2" cy="347.9" r="0.7"/><circle cx="415.2" cy="354.2" r="0.7"/><circle cx="414.2" cy="360.6" r="0.7"/><circle cx="399.4" cy="367.0" r="0.7"/><circle cx="418.5" cy="373.4" r="0.7"/><circle cx="414.2" cy="379.8" r="0.7"/><circle cx="405.8" cy="386.2" r="0.7"/><circle cx="401.2" cy="392.6" r="0.7"/><circle cx="415.5" cy="398.9" r="0.7"/><circle cx="402.5" cy="405.3" r="0.7"/><circle cx="416.7" cy="411.7" r="0.7"/><circle cx="415.5" cy="418.1" r="0.7"/><circle cx="414" cy="424.5" r="0.7"/><circle cx="425.7" cy="430.9" r="0.7"/><circle cx="389.3" cy="437.3" r="0.7"/><circle cx="380.9" cy="443.6" r="0.7"/><circle cx="390" cy="450.0" r="0.7"/><circle cx="410.9" cy="456.4" r="0.7"/><circle cx="391" cy="462.8" r="0.7"/><circle cx="375.3" cy="469.2" r="0.7"/><circle cx="391.3" cy="475.6" r="0.7"/><circle cx="402.5" cy="482.0" r="0.7"/><circle cx="404" cy="488.4" r="0.7"/><circle cx="373.5" cy="494.7" r="0.7"/><circle cx="392.6" cy="501.1" r="0.7"/><circle cx="436" cy="507.5" r="0.7"/><circle cx="373.5" cy="513.9" r="0.7"/></g>
<path d="M495.3,328.7 L462.9,335.1 L502.1,341.5 L464.7,347.9 L457.6,354.2 L482.5,360.6 L476.2,367.0 L476.2,373.4 L473.1,379.8 L475.4,386.2 L462.7,392.6 L470.3,398.9 L470.3,405.3 L491.4,411.7 L492.7,418.1 L465.5,424.5 L457.6,430.9 L473.6,437.3 L460.9,443.6 L467.3,450.0 L478.7,456.4 L469.8,462.8 L468.5,469.2 L457.6,475.6 L518.9,482.0 L466.5,488.4 L496,494.7 L490.9,501.1 L458.4,507.5 L487.6,513.9" stroke="#4a4a4a" stroke-width="0.75" fill="none" stroke-linejoin="round"/>
<g fill="#333"><circle cx="495.3" cy="328.7" r="0.7"/><circle cx="462.9" cy="335.1" r="0.7"/><circle cx="502.1" cy="341.5" r="0.7"/><circle cx="464.7" cy="347.9" r="0.7"/><circle cx="457.6" cy="354.2" r="0.7"/><circle cx="482.5" cy="360.6" r="0.7"/><circle cx="476.2" cy="367.0" r="0.7"/><circle cx="476.2" cy="373.4" r="0.7"/><circle cx="473.1" cy="379.8" r="0.7"/><circle cx="475.4" cy="386.2" r="0.7"/><circle cx="462.7" cy="392.6" r="0.7"/><circle cx="470.3" cy="398.9" r="0.7"/><circle cx="470.3" cy="405.3" r="0.7"/><circle cx="491.4" cy="411.7" r="0.7"/><circle cx="492.7" cy="418.1" r="0.7"/><circle cx="465.5" cy="424.5" r="0.7"/><circle cx="457.6" cy="430.9" r="0.7"/><circle cx="473.6" cy="437.3" r="0.7"/><circle cx="460.9" cy="443.6" r="0.7"/><circle cx="467.3" cy="450.0" r="0.7"/><circle cx="478.7" cy="456.4" r="0.7"/><circle cx="469.8" cy="462.8" r="0.7"/><circle cx="468.5" cy="469.2" r="0.7"/><circle cx="457.6" cy="475.6" r="0.7"/><circle cx="518.9" cy="482.0" r="0.7"/><circle cx="466.5" cy="488.4" r="0.7"/><circle cx="496" cy="494.7" r="0.7"/><circle cx="490.9" cy="501.1" r="0.7"/><circle cx="458.4" cy="507.5" r="0.7"/><circle cx="487.6" cy="513.9" r="0.7"/></g>
<path d="M134.2,519.8V516.5M158.4,519.8V516.5M183,519.8V516.5M204.7,519.8V516.5M237.3,519.8V516.5M270,519.8V516.5M287.3,519.8V516.5M319.8,519.8V516.5M352.3,519.8V516.5M373.5,519.8V516.5M406.6,519.8V516.5M439.5,519.8V516.5M457.6,519.8V516.5M490.9,519.8V516.5M523.8,519.8V516.5" stroke="#111" stroke-width="0.8" fill="none"/>
<text x="134.2" y="531.8" font-size="8.4" text-anchor="middle">30</text>
<text x="158.4" y="531.8" font-size="8.4" text-anchor="middle">60</text>
<text x="183" y="531.8" font-size="8.4" text-anchor="middle">90</text>
<text x="204.7" y="531.8" font-size="8.4" text-anchor="middle">0</text>
<text x="237.3" y="531.8" font-size="8.4" text-anchor="middle">15</text>
<text x="270" y="531.8" font-size="8.4" text-anchor="middle">30</text>
<text x="287.3" y="531.8" font-size="8.4" text-anchor="middle">0</text>
<text x="319.8" y="531.8" font-size="8.4" text-anchor="middle">10</text>
<text x="352.3" y="531.8" font-size="8.4" text-anchor="middle">20</text>
<text x="373.5" y="531.8" font-size="8.4" text-anchor="middle">0</text>
<text x="406.6" y="531.8" font-size="8.4" text-anchor="middle">20</text>
<text x="439.5" y="531.8" font-size="8.4" text-anchor="middle">40</text>
<text x="457.6" y="531.8" font-size="8.4" text-anchor="middle">0</text>
<text x="490.9" y="531.8" font-size="8.4" text-anchor="middle">20</text>
<text x="523.8" y="531.8" font-size="8.4" text-anchor="middle">40</text>
<text x="155.4" y="542.6" font-size="9" text-anchor="middle">EM 1</text>
<text x="240.7" y="542.6" font-size="9" text-anchor="middle">EM 2</text>
<text x="323.4" y="542.6" font-size="9" text-anchor="middle">EM 3</text>
<text x="407.5" y="542.6" font-size="9" text-anchor="middle">EM 4</text>
<text x="493.4" y="542.6" font-size="9" text-anchor="middle">EM 5</text>
</g>
</svg></body></html>
